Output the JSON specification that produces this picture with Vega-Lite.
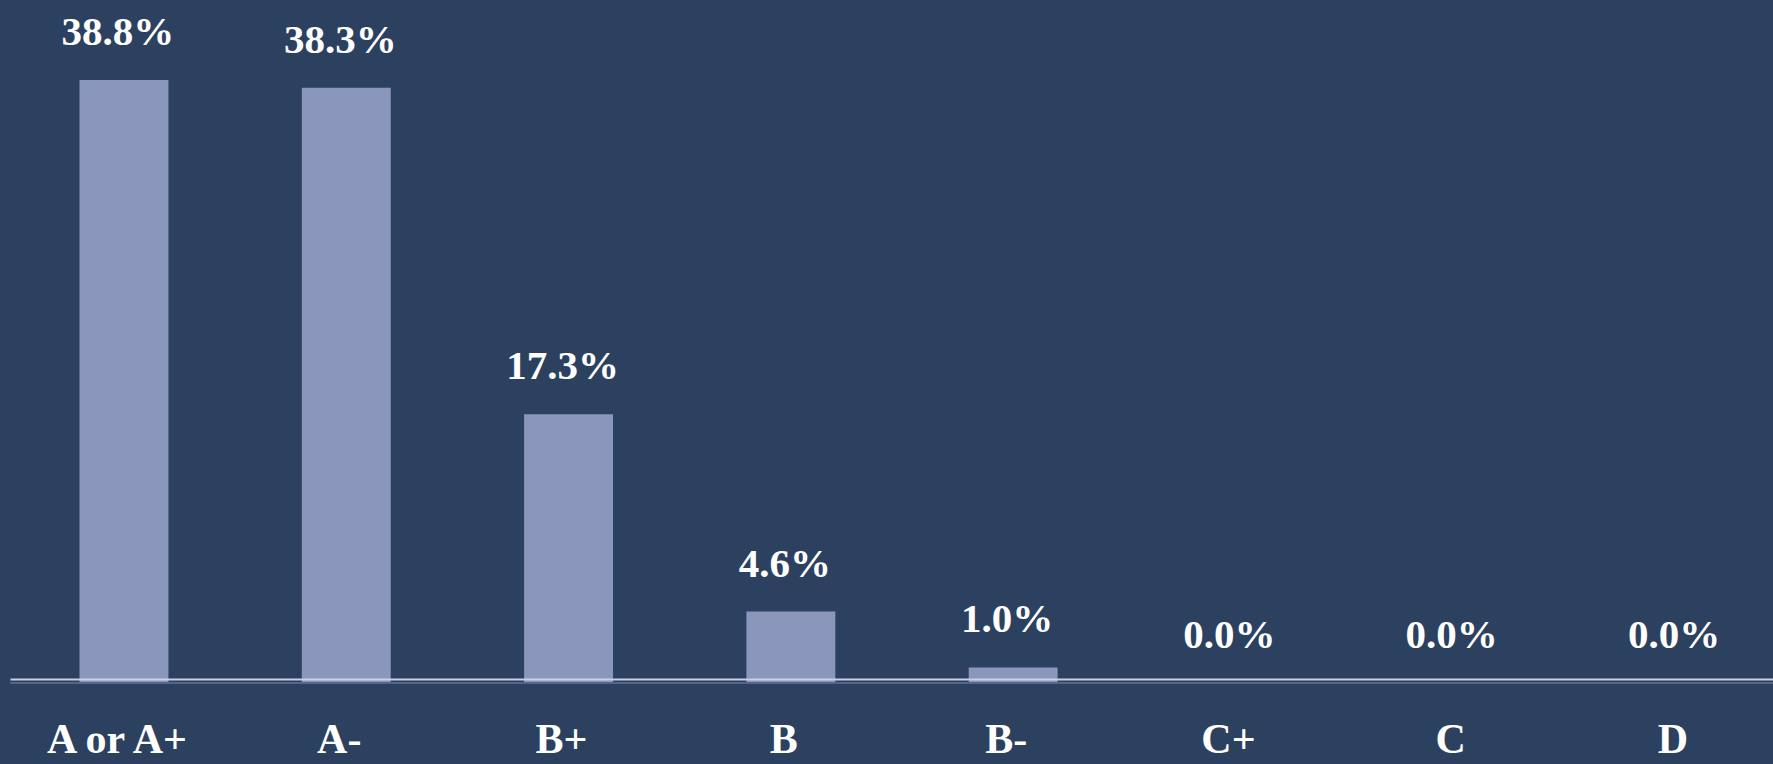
{
  "$schema": "https://vega.github.io/schema/vega-lite/v6.json",
  "width": 1763,
  "height": 683,
  "padding": {"left": 10, "right": 0, "top": 0, "bottom": 81},
  "autosize": {"type": "none"},
  "background": "#2c4160",
  "config": {"view": {"stroke": null}},
  "data": {
    "values": [
      {"grade": "A or A+", "pct": 38.8, "label": "38.8%"},
      {"grade": "A-", "pct": 38.3, "label": "38.3%"},
      {"grade": "B+", "pct": 17.3, "label": "17.3%"},
      {"grade": "B", "pct": 4.6, "label": "4.6%"},
      {"grade": "B-", "pct": 1.0, "label": "1.0%"},
      {"grade": "C+", "pct": 0.0, "label": "0.0%"},
      {"grade": "C", "pct": 0.0, "label": "0.0%"},
      {"grade": "D", "pct": 0.0, "label": "0.0%"}
    ]
  },
  "encoding": {
    "x": {
      "field": "grade",
      "type": "nominal",
      "sort": null,
      "scale": {"paddingInner": 0.6, "paddingOuter": 0.2655, "align": 0.589},
      "axis": {
        "title": null,
        "labelAngle": 0,
        "ticks": false,
        "offset": -4,
        "domainColor": "#c9cfdd",
        "domainWidth": 2,
        "zindex": 1,
        "labelFont": "Liberation Serif",
        "labelFontWeight": "bold",
        "labelFontSize": 42,
        "labelColor": "#ffffff",
        "labelPadding": 40,
        "labelOffset": -7
      }
    },
    "y": {
      "field": "pct",
      "type": "quantitative",
      "scale": {"domain": [0, 43.95]},
      "axis": null
    }
  },
  "layer": [
    {
      "mark": {"type": "bar", "color": "#8a96bb"}
    },
    {
      "mark": {"type": "rule", "color": "#55678a", "strokeWidth": 1},
      "encoding": {"x": null, "y": {"datum": 0, "type": "quantitative"}}
    },
    {
      "mark": {
        "type": "text",
        "baseline": "alphabetic",
        "dy": -35,
        "dx": -6,
        "font": "Liberation Serif",
        "fontWeight": "bold",
        "fontSize": 41,
        "color": "#ffffff"
      },
      "encoding": {"text": {"field": "label"}}
    }
  ]
}
